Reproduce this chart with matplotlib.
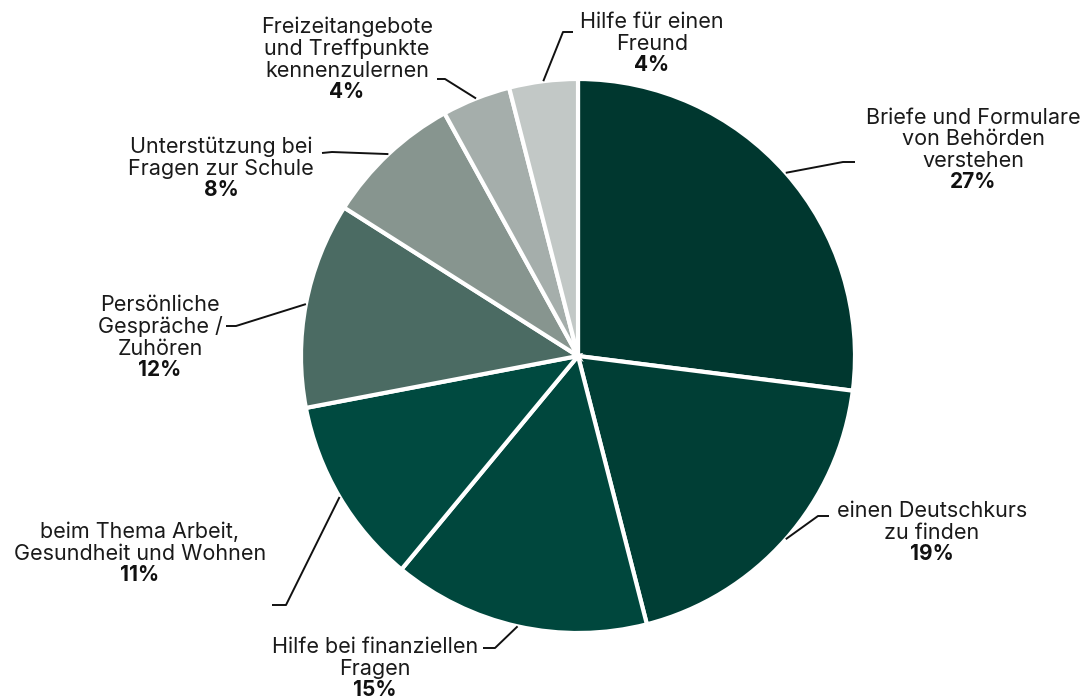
"""
Pie chart: Wobei wird Unterstützung gebraucht?
"""

import matplotlib.pyplot as plt
import numpy as np

# data
labels = [
    'Briefe und Formulare\nvon Behörden\nverstehen',
    'einen Deutschkurs\nzu finden',
    'Hilfe bei finanziellen\nFragen',
    'beim Thema Arbeit,\nGesundheit und Wohnen',
    'Persönliche\nGespräche /\nZuhören',
    'Unterstützung bei\nFragen zur Schule',
    'Freizeitangebote\nund Treffpunkte\nkennenzulernen',
    'Hilfe für einen\nFreund',
]
values = [27, 19, 15, 11, 12, 8, 4, 4]
colors = ['#00372f', '#003e35', '#00473d', '#004a40',
          '#4b6b63', '#87958f', '#a5aeab', '#c2c8c6']

# layout in image pixels (y measured from top)
W, H = 1089, 699
cx, cy, R = 578, 356, 277
# (x centre, baseline of last name line)
text_pos = [(973, 167), (932, 539), (375, 675), (140, 560),
            (160, 355), (221, 175), (347, 77), (652, 50)]
# leader elbow and end point
elbows = [(843, 162), (818, 516), (495, 648), (286, 605),
          (236, 326), (332, 152), (445, 79), (563, 32)]
ends = [(855, 162), (829, 516), (483, 648), (272, 605),
        (226, 326), (322, 153), (437, 79), (573, 32)]

plt.rcParams['font.family'] = ['Inter', 'DejaVu Sans']


def fy(y):
    return H - y


fig = plt.figure(figsize=(W / 100, H / 100), dpi=100)
ax = fig.add_axes([0, 0, 1, 1])

wedges, _ = ax.pie(values, colors=colors, startangle=90, counterclock=False,
                   center=(cx, fy(cy)), radius=R,
                   wedgeprops=dict(edgecolor='white', linewidth=3))
ax.set_xlim(0, W)
ax.set_ylim(0, H)
ax.set_aspect('equal')
ax.axis('off')

for w, lab, v, (tx, ty), (ex, ey), (px, py) in zip(wedges, labels, values,
                                                  text_pos, elbows, ends):
    mid = np.deg2rad((w.theta1 + w.theta2) / 2)
    ax_x = cx + R * np.cos(mid)
    ax_y = fy(cy) + R * np.sin(mid)
    ax.plot([ax_x, ex, px], [ax_y, fy(ey), fy(py)], color='#111111',
            linewidth=1.4, solid_capstyle='butt')
    ax.text(tx, fy(ty), lab, ha='center', va='baseline', fontsize=15.5,
            linespacing=1.1, color='#1a1a1a')
    ax.text(tx, fy(ty + 21), f'{v}%', ha='center', va='baseline',
            fontsize=15, fontweight='bold', color='#111111')

plt.savefig('out.png', dpi=100)
